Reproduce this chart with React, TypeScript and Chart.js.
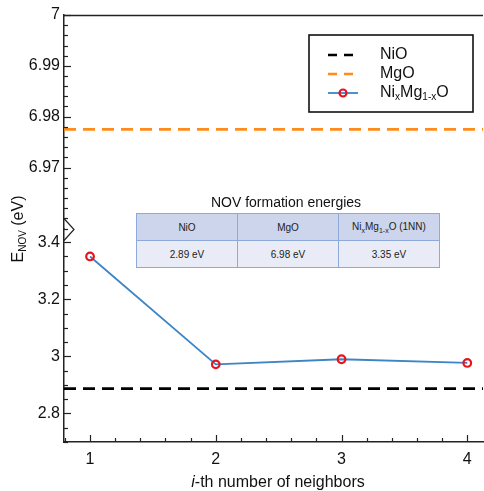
import React, { useEffect, useRef } from 'react';
import { Chart, registerables } from 'chart.js';

Chart.register(...registerables);

// ---- data ----
const neighbors = [1, 2, 3, 4];
const enovNixMg = [3.35, 2.972, 2.99, 2.977];
const enovNiO = 2.887;
const enovMgO = 6.9775;

const xRange = [0.793, 4.125];
const upperRange = [6.958, 7];
const lowerRange = [2.7, 3.448];

const xTicks = [1, 2, 3, 4];
const upperTicks = [6.97, 6.98, 6.99, 7];
const lowerTicks = [2.8, 3, 3.2, 3.4];
const xMinorStep = 0.2;
const upperMinorStep = 0.002;
const lowerMinorStep = 0.05;

const tableTitle = 'NOV formation energies';
const tableValues = ['2.89 eV', '6.98 eV', '3.35 eV'];

const FONT = '"Liberation Sans", Arial, Helvetica, sans-serif';
const BLUE = '#3d85c6';
const ORANGE = '#ff8c1a';
const RED = '#e8141c';

// target plot-area box
const AREA = { left: 64, top: 15, right: 483, bottom: 442 };

function minorValues(min: number, max: number, step: number) {
  const out: number[] = [];
  const start = Math.ceil(min / step - 1e-6);
  for (let k = start; k * step <= max + 1e-9; k++) out.push(k * step);
  return out;
}

type Part = { t: string; sub?: boolean };

function drawRich(ctx: CanvasRenderingContext2D, parts: Part[], x: number, y: number, size: number, subSize: number) {
  let cx = x;
  for (const p of parts) {
    ctx.font = `${p.sub ? subSize : size}px ${FONT}`;
    ctx.fillText(p.t, cx, p.sub ? y + size * 0.28 : y);
    cx += ctx.measureText(p.t).width;
  }
  return cx - x;
}

function richWidth(ctx: CanvasRenderingContext2D, parts: Part[], size: number, subSize: number) {
  let w = 0;
  for (const p of parts) {
    ctx.font = `${p.sub ? subSize : size}px ${FONT}`;
    w += ctx.measureText(p.t).width;
  }
  return w;
}

const fitAreaPlugin = {
  id: 'fitArea',
  afterLayout(chart: any) {
    const a = chart.chartArea;
    a.right = AREA.right;
    a.width = a.right - a.left;
    const xs = chart.scales.x;
    xs.right = AREA.right;
    xs.width = xs.right - xs.left;
    xs.configure();
  },
};

const decorPlugin = {
  id: 'decor',
  afterDraw(chart: any) {
    const ctx: CanvasRenderingContext2D = chart.ctx;
    const area = chart.chartArea;
    const xs = chart.scales.x;
    const yl = chart.scales.yLow;
    const yh = chart.scales.yHigh;
    ctx.save();
    ctx.strokeStyle = '#222';
    ctx.lineWidth = 1.2;
    const yTicks = (scale: any, majors: number[], step: number) => {
      minorValues(scale.min, scale.max, step).forEach((v) => {
        const isMajor = majors.some((m) => Math.abs(m - v) < step / 10);
        const py = Math.round(scale.getPixelForValue(v)) + 0.5;
        ctx.beginPath();
        ctx.moveTo(area.left, py);
        ctx.lineTo(area.left + (isMajor ? 7 : 4), py);
        ctx.stroke();
      });
    };
    yTicks(yh, upperTicks, upperMinorStep);
    yTicks(yl, lowerTicks, lowerMinorStep);
    minorValues(xs.min, xs.max, xMinorStep).forEach((v) => {
      const isMajor = xTicks.some((m) => Math.abs(m - v) < 0.01);
      const px = Math.round(xs.getPixelForValue(v)) + 0.5;
      ctx.beginPath();
      ctx.moveTo(px, area.bottom);
      ctx.lineTo(px, area.bottom - (isMajor ? 7 : 4));
      ctx.stroke();
    });
    // top border
    ctx.lineWidth = 1.5;
    ctx.beginPath();
    ctx.moveTo(area.left, area.top + 0.5);
    ctx.lineTo(area.right, area.top + 0.5);
    ctx.stroke();
    // axis break marker
    const by = yh.bottom;
    ctx.lineWidth = 1.2;
    ctx.strokeStyle = '#222';
    ctx.beginPath();
    ctx.moveTo(area.left, by - 10);
    ctx.lineTo(area.left + 10, by + 1);
    ctx.lineTo(area.left, by + 12);
    ctx.stroke();

    // legend
    const lx = 309, ly = 35, lw = 164, lh = 77;
    ctx.fillStyle = '#fff';
    ctx.fillRect(lx, ly, lw, lh);
    ctx.strokeStyle = '#111';
    ctx.lineWidth = 1.6;
    ctx.strokeRect(lx, ly, lw, lh);
    const rows = [55, 74, 93];
    ctx.lineWidth = 2.6;
    ctx.setLineDash([9, 7]);
    ctx.strokeStyle = '#000';
    ctx.beginPath(); ctx.moveTo(328, rows[0]); ctx.lineTo(360, rows[0]); ctx.stroke();
    ctx.strokeStyle = ORANGE;
    ctx.beginPath(); ctx.moveTo(328, rows[1]); ctx.lineTo(360, rows[1]); ctx.stroke();
    ctx.setLineDash([]);
    ctx.strokeStyle = BLUE;
    ctx.lineWidth = 1.8;
    ctx.beginPath(); ctx.moveTo(328, rows[2]); ctx.lineTo(358, rows[2]); ctx.stroke();
    ctx.strokeStyle = RED;
    ctx.lineWidth = 2.2;
    ctx.beginPath(); ctx.arc(343, rows[2], 3.5, 0, Math.PI * 2); ctx.stroke();
    ctx.fillStyle = '#111';
    ctx.textBaseline = 'middle';
    ctx.textAlign = 'left';
    drawRich(ctx, [{ t: 'NiO' }], 380, rows[0], 16, 10);
    drawRich(ctx, [{ t: 'MgO' }], 380, rows[1], 16, 10);
    drawRich(ctx, [{ t: 'Ni' }, { t: 'x', sub: true }, { t: 'Mg' }, { t: '1-x', sub: true }, { t: 'O' }], 380, rows[2], 16, 10);

    // y title
    const yParts: Part[] = [{ t: 'E' }, { t: 'NOV', sub: true }, { t: ' (eV)' }];
    const yw = richWidth(ctx, yParts, 16, 10);
    ctx.save();
    ctx.translate(19, 229);
    ctx.rotate(-Math.PI / 2);
    drawRich(ctx, yParts, -yw / 2, 0, 16, 10);
    ctx.restore();

    // x title
    const xParts = [{ t: 'i', it: true }, { t: '-th number of neighbors', it: false }];
    let tw = 0;
    xParts.forEach((p) => { ctx.font = `${p.it ? 'italic ' : ''}16px ${FONT}`; tw += ctx.measureText(p.t).width; });
    let cx = 278 - tw / 2;
    xParts.forEach((p) => {
      ctx.font = `${p.it ? 'italic ' : ''}16px ${FONT}`;
      ctx.fillText(p.t, cx, 483);
      cx += ctx.measureText(p.t).width;
    });
    ctx.restore();
  },
};

export default function App() {
  const canvasRef = useRef<HTMLCanvasElement | null>(null);

  useEffect(() => {
    if (!canvasRef.current) return;
    const yCommon = (ticks: number[]) => ({
      type: 'linear' as const,
      position: 'left' as const,
      stack: 'broken',
      stackWeight: 1,
      grid: { display: false, drawTicks: false },
      border: { display: true, color: '#222', width: 1.5 },
      afterBuildTicks: (s: any) => { s.ticks = ticks.map((v) => ({ value: v })); },
      afterFit: (s: any) => { s.width = AREA.left; s.paddingTop = 0; s.paddingBottom = 0; },
      ticks: {
        padding: 4,
        color: '#111',
        font: { family: FONT, size: 16 },
        callback: (v: any) => String(Number(v)),
      },
    });
    const chart: any = new Chart(canvasRef.current, {
      type: 'line',
      data: {
        datasets: [
          {
            label: 'NiO',
            data: [{ x: xRange[0], y: enovNiO }, { x: xRange[1], y: enovNiO }],
            yAxisID: 'yLow',
            borderColor: '#000',
            borderWidth: 2.6,
            borderDash: [12, 7],
            pointRadius: 0,
          },
          {
            label: 'MgO',
            data: [{ x: xRange[0], y: enovMgO }, { x: xRange[1], y: enovMgO }],
            yAxisID: 'yHigh',
            borderColor: ORANGE,
            borderWidth: 2.6,
            borderDash: [12, 7],
            pointRadius: 0,
          },
          {
            label: 'NixMg1-xO',
            data: neighbors.map((n, i) => ({ x: n, y: enovNixMg[i] })),
            yAxisID: 'yLow',
            borderColor: BLUE,
            borderWidth: 1.8,
            pointRadius: 3.8,
            pointBorderWidth: 2.2,
            pointBorderColor: RED,
            pointBackgroundColor: 'rgba(255,255,255,0)',
          },
        ],
      },
      options: {
        animation: false,
        responsive: false,
        devicePixelRatio: 1,
        layout: { padding: { top: 15, right: 1, left: 0, bottom: 0 } },
        plugins: { legend: { display: false }, tooltip: { enabled: false } },
        scales: {
          x: {
            type: 'linear',
            min: xRange[0],
            max: xRange[1],
            grid: { display: false, drawTicks: false },
            border: { display: true, color: '#222', width: 1.5 },
            afterBuildTicks: (s: any) => { s.ticks = xTicks.map((v) => ({ value: v })); },
            afterFit: (s: any) => { s.height = 49; s.paddingLeft = 0; s.paddingRight = 0; },
            ticks: { padding: 8, color: '#111', font: { family: FONT, size: 16 } },
          },
          yLow: { ...yCommon(lowerTicks), min: lowerRange[0], max: lowerRange[1] },
          yHigh: { ...yCommon(upperTicks), min: upperRange[0], max: upperRange[1] },
        } as any,
      },
      plugins: [fitAreaPlugin, decorPlugin],
    });
    return () => chart.destroy();
  }, []);

  const cell: React.CSSProperties = {
    border: '1px solid #8eaadb',
    width: 100,
    height: 26,
    padding: 0,
    textAlign: 'center',
    verticalAlign: 'middle',
    fontSize: 10,
    fontWeight: 500,
    color: '#222',
  };

  return (
    <div style={{ position: 'fixed', left: 0, top: 0, width: 484, height: 491, background: '#fff', fontFamily: FONT }}>
      <canvas ref={canvasRef} width={484} height={491} style={{ display: 'block' }} />
      <div style={{ position: 'absolute', left: 136, top: 194, width: 300, textAlign: 'center', fontSize: 14, lineHeight: '16px', color: '#111' }}>
        {tableTitle}
      </div>
      <table style={{ position: 'absolute', left: 136, top: 213, width: 301, borderCollapse: 'collapse', tableLayout: 'fixed' }}>
        <tbody>
          <tr style={{ background: '#cdd5ec' }}>
            <td style={cell}>NiO</td>
            <td style={cell}>MgO</td>
            <td style={cell}>Ni<sub style={{ fontSize: 7 }}>x</sub>Mg<sub style={{ fontSize: 7 }}>1-x</sub>O (1NN)</td>
          </tr>
          <tr style={{ background: '#e9ecf6' }}>
            {tableValues.map((v) => (
              <td key={v} style={cell}>{v}</td>
            ))}
          </tr>
        </tbody>
      </table>
    </div>
  );
}
